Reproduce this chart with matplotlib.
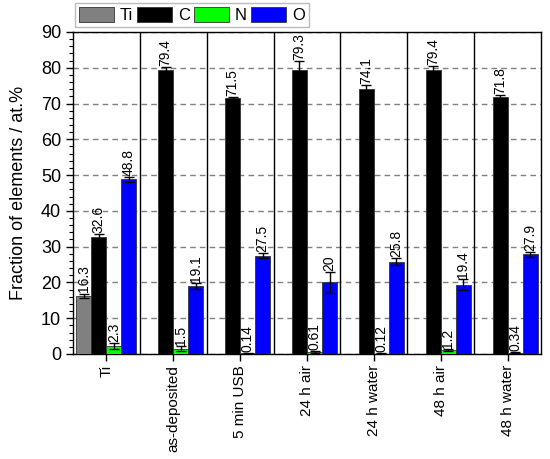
import matplotlib
matplotlib.use("Agg")
import matplotlib.pyplot as plt
import numpy as np
from matplotlib.ticker import MultipleLocator

plt.rcParams["font.family"] = ["Liberation Sans", "DejaVu Sans"]

samples = ["Ti", "as-deposited", "5 min USB", "24 h air", "24 h water", "48 h air", "48 h water"]
elements = ["Ti", "C", "N", "O"]
colors = ["#808080", "#000000", "#00ff00", "#0000ff"]

ti_vals = [16.3, 0, 0, 0, 0, 0, 0]
c_vals = [32.6, 79.4, 71.5, 79.3, 74.1, 79.4, 71.8]
n_vals = [2.3, 1.5, 0.14, 0.61, 0.12, 1.2, 0.34]
o_vals = [48.8, 19.1, 27.5, 20, 25.8, 19.4, 27.9]

ti_err = [0.6, 0, 0, 0, 0, 0, 0]
c_err = [0.8, 0.8, 0.3, 2.5, 1.1, 1.2, 0.6]
n_err = [0.8, 0.6, 0.05, 0.3, 0.05, 0.3, 0.1]
o_err = [0.7, 0.8, 0.8, 3.0, 0.9, 1.5, 0.7]

values = [ti_vals, c_vals, n_vals, o_vals]
errors = [ti_err, c_err, n_err, o_err]

fig = plt.figure(figsize=(5.5, 4.59), dpi=100)
ax = fig.add_axes([0.1327, 0.2288, 0.8509, 0.7015])

x = np.arange(len(samples))
w = 0.225
offsets = [-1.5 * w, -0.5 * w, 0.5 * w, 1.5 * w]

handles = []
for vals, errs, col, off, name in zip(values, errors, colors, offsets, elements):
    vals = np.array(vals, dtype=float)
    errs = np.array(errs, dtype=float)
    keep = vals > 0
    bars = ax.bar(x[keep] + off, vals[keep], width=w, color=col, edgecolor="#333333",
                  linewidth=0.6, zorder=3, label=name)
    ax.errorbar(x[keep] + off, vals[keep], yerr=errs[keep], fmt="none", ecolor="black",
                elinewidth=1.0, capsize=3.5, capthick=1.0, zorder=4)
    for xi, v, e in zip(x[keep] + off, vals[keep], errs[keep]):
        ax.text(xi, v + e + 0.3, f"{v:g}", rotation=90, ha="center", va="bottom",
                fontsize=10, zorder=5)
    handles.append(bars)

# group separators
for b in np.arange(0.5, len(samples) - 0.5, 1.0):
    ax.axvline(b, color="black", linewidth=1.0, zorder=2)

ax.set_xlim(-0.5, len(samples) - 0.5)
ax.set_ylim(0, 90)
ax.yaxis.set_major_locator(MultipleLocator(10))
ax.yaxis.set_minor_locator(MultipleLocator(2))
ax.set_xticks(x)
ax.set_xticklabels(samples, rotation=90, fontsize=11)
ax.tick_params(axis="y", which="major", labelsize=13, length=5, width=1, direction="out")
ax.tick_params(axis="y", which="minor", length=3, width=0.8, direction="out")
ax.tick_params(axis="x", which="major", length=5, width=1, direction="out", pad=3)
ax.grid(axis="y", which="major", color="#808080", linestyle=(0, (4, 3)), linewidth=1.0, zorder=1)
ax.set_axisbelow(True)
for s in ax.spines.values():
    s.set_linewidth(1.0)

ax.set_ylabel("Fraction of elements / at.%", fontsize=13, labelpad=10)

leg = fig.legend(handles=handles, labels=elements, loc="upper left",
                 bbox_to_anchor=(0.136, 0.994), bbox_transform=fig.transFigure,
                 ncol=4, fontsize=12, frameon=True, fancybox=False,
                 handlelength=2.1, handleheight=1.0, handletextpad=0.35,
                 columnspacing=0.25, borderpad=0.25, borderaxespad=0)
leg.get_frame().set_edgecolor("#aaaaaa")
leg.get_frame().set_linewidth(1.0)

fig.savefig("out.png", dpi=100)
